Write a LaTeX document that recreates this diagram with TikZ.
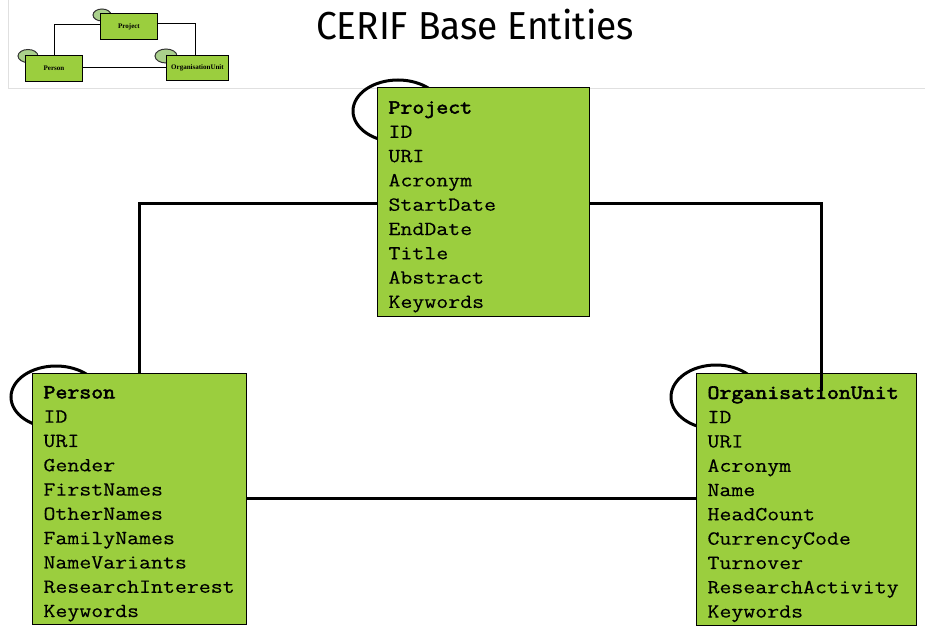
\documentclass[tikz,border=0pt]{standalone}
\usepackage{fontspec}
\setmainfont{Liberation Serif}
\newfontfamily\monofont[FakeStretch=1.16, FakeBold=0.3, BoldFont={Latin Modern Mono}, BoldFeatures={FakeBold=2.8}]{Latin Modern Mono}
\newfontfamily\titlefont[FakeStretch=0.95]{Fira Sans}
\usetikzlibrary{positioning}
\definecolor{boxgreen}{RGB}{155,206,62}
\definecolor{thumbell}{RGB}{170,208,140}
\tikzset{
  entity/.style={draw=black, line width=1pt, fill=boxgreen, anchor=north west,
    inner xsep=11pt, inner ysep=0pt, align=left, text=black,
    font=\monofont\fontsize{20}{24.3}\selectfont},
  loopell/.style={draw=black, line width=3pt},
  conn/.style={draw=black, line width=3pt},
  thumb/.style={draw=black, line width=1pt, fill=boxgreen, anchor=north west,
    inner sep=0pt, font=\bfseries\fontsize{7}{8}\selectfont},
  thumbloop/.style={draw=black!80, line width=1pt, fill=thumbell},
  thumbconn/.style={draw=black, line width=1pt},
}
\newcommand{\topstrut}{\rule{0pt}{22pt}}
\begin{document}
\begin{tikzpicture}[x=1pt,y=-1pt]
\useasboundingbox (0,0) rectangle (925,631);
% header frame
\draw[black!12, line width=0.8pt] (8,0) -- (8,88) -- (925,88);
% title
\node[font=\titlefont\fontsize{39}{44}\selectfont, anchor=base] (title) at (475,40) {CERIF Base Entities};
% thumbnail
\draw[thumbloop] (102,15) ellipse [x radius=9, y radius=6];
\draw[thumbloop] (28,56) ellipse [x radius=10, y radius=6.5];
\draw[thumbloop] (166,56) ellipse [x radius=11, y radius=7];
\node[thumb, minimum width=57, minimum height=26] (tproj) at (100,13) {Project};
\node[thumb, minimum width=57, minimum height=26] (tpers) at (25,55) {Person};
\node[thumb, minimum width=62, minimum height=25] (torg) at (166,55) {OrganisationUnit};
\coordinate (t1) at (54,25);
\coordinate (t2) at (195,24);
\draw[thumbconn] (tpers.north -| t1) -- (t1) -- (tproj.west |- t1);
\draw[thumbconn] (tproj.east |- t2) -- (t2) -- (torg.north -| t2);
\draw[thumbconn] (tpers.east |- 0,68) -- (torg.west |- 0,68);
% loops
\draw[loopell] (398,111) ellipse [x radius=45, y radius=31];
\draw[loopell] (56,397) ellipse [x radius=45, y radius=31];
\draw[loopell] (716,397) ellipse [x radius=45, y radius=32];
% connector corners
\coordinate (c1) at (139,203);
\coordinate (c2) at (821,203);
\coordinate (c3) at (821,391);
% entities
\node[entity, text width=190, minimum height=229] (project) at (377,87)
 {\topstrut\textbf{Project}\\ID\\URI\\Acronym\\StartDate\\EndDate\\Title\\Abstract\\Keywords};
\node[entity, text width=192, minimum height=251] (person) at (32,373)
 {\topstrut\textbf{Person}\\ID\\URI\\Gender\\FirstNames\\OtherNames\\FamilyNames\\NameVariants\\ResearchInterest\\Keywords};
\node[entity, text width=198, minimum height=252] (org) at (696,373)
 {\topstrut\textbf{OrganisationUnit}\\ID\\URI\\Acronym\\Name\\HeadCount\\CurrencyCode\\Turnover\\ResearchActivity\\Keywords};
\draw[conn] (person.north -| c1) -- (c1) -- (project.west |- c1);
\draw[conn] (project.east |- c2) -- (c2) -- (c3);
\draw[conn] (person.east |- 0,498) -- (org.west |- 0,498);
\end{tikzpicture}
\end{document}
